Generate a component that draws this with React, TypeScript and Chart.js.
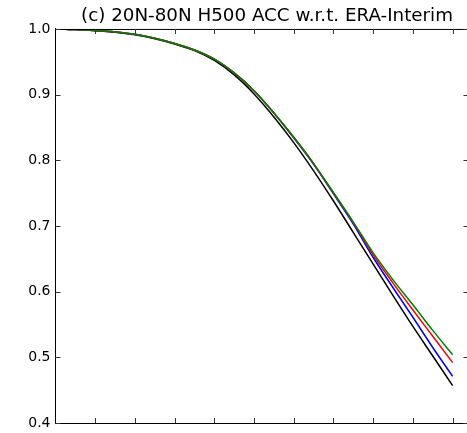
import React, { useEffect, useRef } from "react";
import { Chart, registerables } from "chart.js";

Chart.register(...registerables);

const TITLE = "(c) 20N-80N H500 ACC w.r.t. ERA-Interim";

const days = [0.25, 0.5, 1, 1.5, 2, 2.5, 3, 3.5, 4, 4.5, 5, 5.5, 6, 6.5, 7, 7.5, 8, 8.5, 9, 9.5, 10];

const greenSeries = [0.9995, 0.999, 0.9975, 0.9955, 0.992, 0.986, 0.978, 0.968, 0.954, 0.933, 0.906, 0.872, 0.835, 0.795, 0.751, 0.706, 0.659, 0.618, 0.58, 0.541, 0.504];
const redSeries = [0.9995, 0.999, 0.9975, 0.9955, 0.992, 0.986, 0.978, 0.968, 0.954, 0.933, 0.906, 0.872, 0.835, 0.795, 0.75, 0.705, 0.656, 0.613, 0.572, 0.532, 0.492];
const blueSeries = [0.9995, 0.999, 0.9975, 0.9955, 0.992, 0.986, 0.978, 0.968, 0.954, 0.933, 0.906, 0.872, 0.834, 0.794, 0.749, 0.703, 0.652, 0.606, 0.561, 0.515, 0.471];
const blackSeries = [0.9995, 0.999, 0.9973, 0.995, 0.991, 0.985, 0.977, 0.967, 0.952, 0.93, 0.901, 0.866, 0.827, 0.784, 0.738, 0.69, 0.642, 0.594, 0.547, 0.502, 0.457];

const xTicks = [1, 2, 3, 4, 5, 6, 7, 8, 9, 10];
const yTicks = [0.4, 0.5, 0.6, 0.7, 0.8, 0.9, 1.0];

const X_MIN = 0;
const X_MAX = 10.4;
const Y_MIN = 0.4;
const Y_MAX = 1.0;

const CANVAS_W = 534;
const CANVAS_H = 433;
const VIEW_W = 467;
const VIEW_H = 433;

const toPoints = (vals: number[]) => days.map((d, i) => ({ x: d, y: vals[i] }));

const frameTicks = {
  id: "frameTicks",
  afterDatasetsDraw(chart: any) {
    const { ctx, chartArea, scales } = chart;
    const { left, right, top, bottom } = chartArea;
    ctx.save();
    ctx.strokeStyle = "#000";
    ctx.lineWidth = 1;
    ctx.beginPath();
    ctx.moveTo(left, top + 0.5);
    ctx.lineTo(right, top + 0.5);
    ctx.moveTo(right - 0.5, top);
    ctx.lineTo(right - 0.5, bottom);
    ctx.stroke();
    ctx.strokeStyle = "#333";
    ctx.beginPath();
    const len = 5;
    for (const t of xTicks) {
      const px = Math.round(scales.x.getPixelForValue(t)) + 0.5;
      ctx.moveTo(px, bottom);
      ctx.lineTo(px, bottom - len);
      ctx.moveTo(px, top);
      ctx.lineTo(px, top + len);
    }
    for (const t of yTicks) {
      const py = Math.round(scales.y.getPixelForValue(t)) + 0.5;
      ctx.moveTo(left, py);
      ctx.lineTo(left + len, py);
      ctx.moveTo(right, py);
      ctx.lineTo(right - len, py);
    }
    ctx.stroke();
    ctx.restore();
  },
};

export default function App() {
  const ref = useRef<HTMLCanvasElement | null>(null);

  useEffect(() => {
    const canvas = ref.current;
    if (!canvas) return;
    const mk = (label: string, vals: number[], color: string) => ({
      label,
      data: toPoints(vals),
      borderColor: color,
      backgroundColor: color,
      borderWidth: 1.5,
      pointRadius: 0,
      fill: false,
      cubicInterpolationMode: "monotone" as const,
    });
    const chart = new Chart(canvas, {
      type: "line",
      data: {
        datasets: [
          mk("green", greenSeries, "#008000"),
          mk("red", redSeries, "#ff0000"),
          mk("blue", blueSeries, "#0000ff"),
          mk("black", blackSeries, "#000000"),
        ],
      },
      options: {
        animation: false,
        responsive: false,
        devicePixelRatio: 1,
        layout: { padding: 0 },
        plugins: {
          legend: { display: false },
          tooltip: { enabled: false },
          title: {
            display: true,
            text: TITLE,
            color: "#000",
            fullSize: true,
            align: "center",
            font: { family: "DejaVu Sans", size: 18.3, weight: "normal" },
            padding: { top: 5, bottom: 2 },
          },
        },
        scales: {
          x: {
            type: "linear",
            position: "bottom",
            min: X_MIN,
            max: X_MAX,
            ticks: { display: false },
            grid: { display: false, drawTicks: false },
            border: { display: true, color: "#000", width: 1 },
            afterFit: (s: any) => {
              s.height = 10;
            },
          },
          y: {
            type: "linear",
            position: "left",
            min: Y_MIN,
            max: Y_MAX,
            ticks: {
              stepSize: 0.1,
              padding: 5,
              color: "#000",
              font: { family: "DejaVu Sans", size: 14, lineHeight: 0.6 },
              callback: (v: any) => Number(v).toFixed(1),
            },
            grid: { display: false, drawTicks: false },
            border: { display: true, color: "#000", width: 1 },
            afterFit: (s: any) => {
              s.width = 55.5;
            },
          },
          yRight: {
            type: "linear",
            position: "right",
            min: Y_MIN,
            max: Y_MAX,
            ticks: { display: false },
            grid: { display: false, drawTicks: false },
            border: { display: false },
            afterFit: (s: any) => {
              s.width = CANVAS_W - 468.5;
            },
          },
        },
      },
      plugins: [frameTicks],
    });
    return () => chart.destroy();
  }, []);

  return (
    <div
      style={{
        position: "fixed",
        left: 0,
        top: 0,
        width: VIEW_W,
        height: VIEW_H,
        overflow: "hidden",
        background: "#fff",
      }}
    >
      <canvas
        ref={ref}
        width={CANVAS_W}
        height={CANVAS_H}
        style={{ width: CANVAS_W, height: CANVAS_H, display: "block" }}
      />
    </div>
  );
}
